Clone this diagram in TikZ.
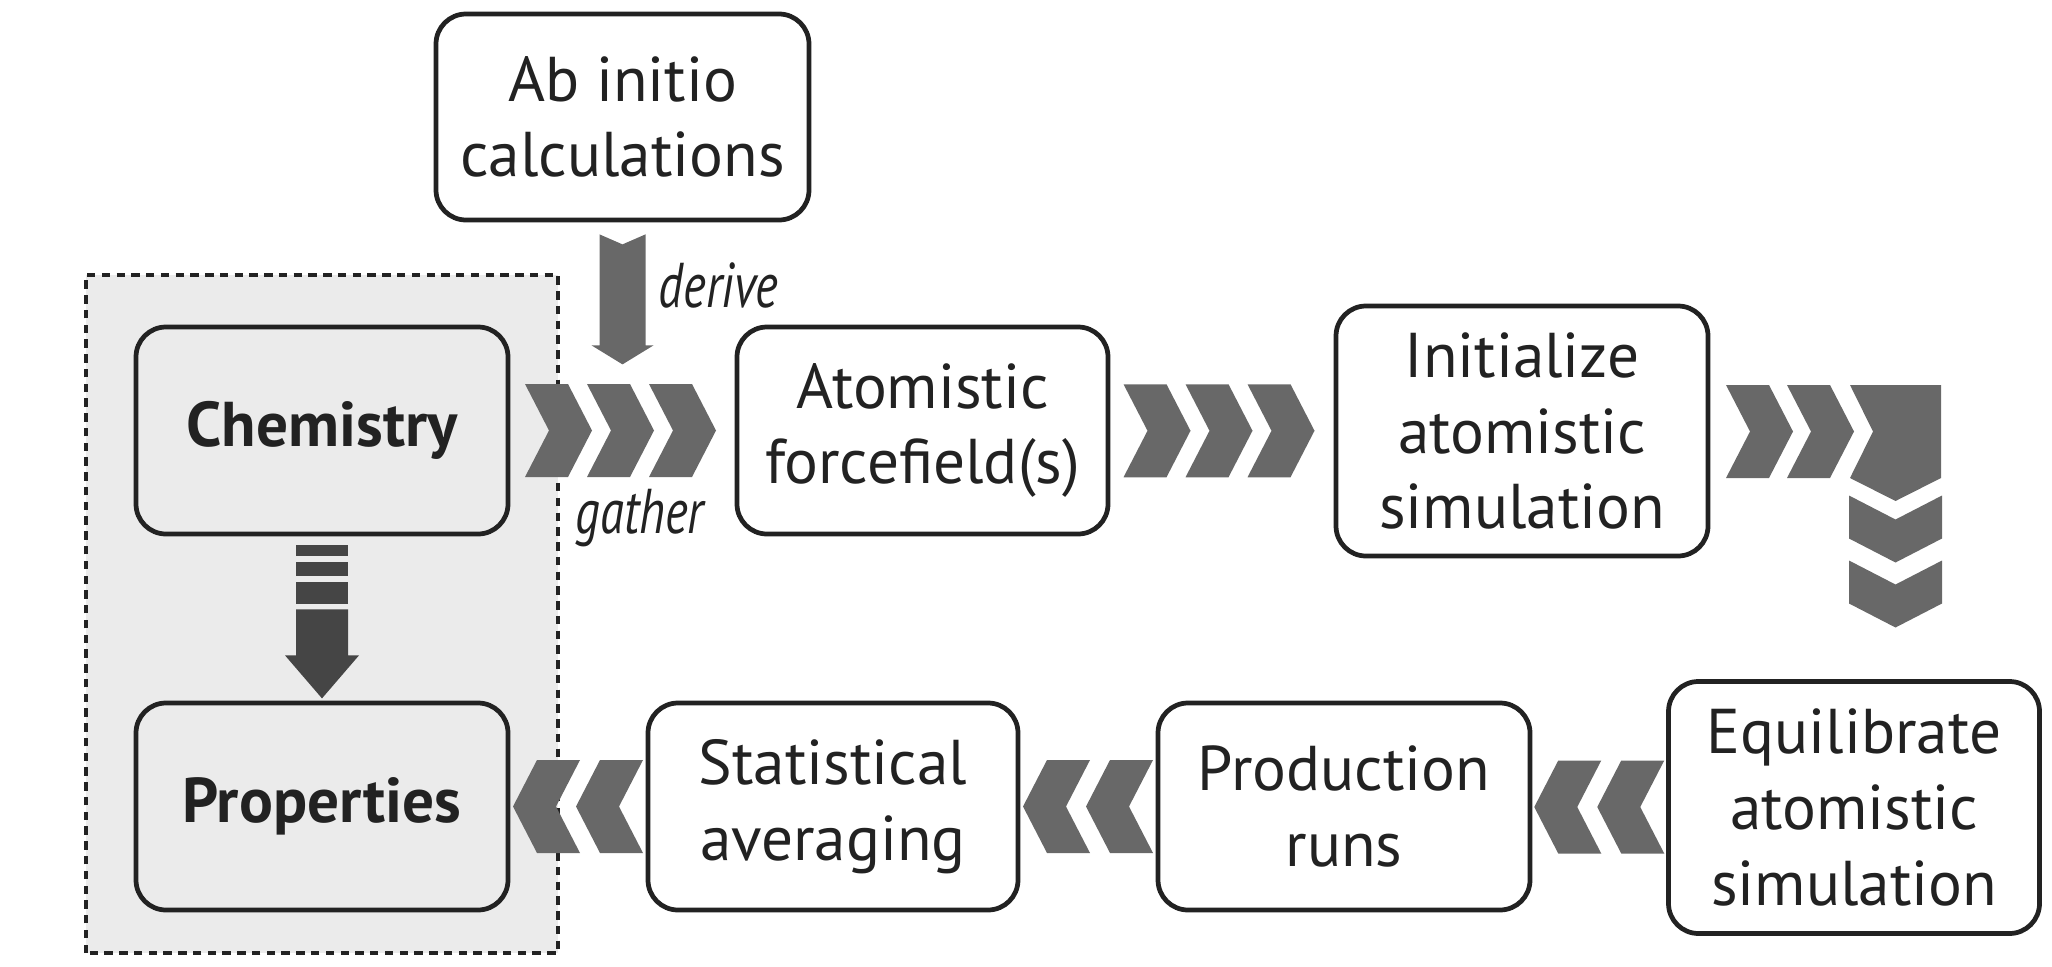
\documentclass[tikz,border=0pt]{standalone}
\usepackage{fontspec}
\setmainfont{PT Sans}
\newfontfamily\labelfont{PT Sans}[FakeStretch=0.77]
\usetikzlibrary{calc}
\definecolor{chevgray}{HTML}{686868}
\definecolor{arrowgray}{HTML}{454545}
\definecolor{areagray}{HTML}{EBEBEB}
\definecolor{linegray}{HTML}{222222}
\tikzset{
  box/.style={draw=linegray, text=linegray, line width=1.35pt, rounded corners=0.3cm,
    fill=white, align=center, inner sep=0pt, minimum width=3.72cm,
    minimum height=2.07cm, font=\fontsize{18}{21.5}\selectfont},
  chembox/.style={box, fill=areagray, font=\fontsize{18}{21.5}\selectfont\bfseries},
  flowlabel/.style={text=linegray, inner sep=0pt, font=\labelfont\fontsize{18}{21.5}\selectfont\itshape},
  chevron/.pic={\fill[chevgray] (-0.335,0.465) -- (0.095,0.465) -- (0.335,0)
    -- (0.095,-0.465) -- (-0.335,-0.465) -- (-0.095,0) -- cycle;}
}
\begin{document}
\begin{tikzpicture}
  \useasboundingbox (0,0) rectangle (20.52,9.66);
  \draw[draw=linegray, fill=areagray, line width=1pt, dash pattern=on 2.4pt off 1.8pt]
    (0.86,0.13) rectangle (5.58,6.91);
  \draw
    (6.225,8.49) node[box, minimum width=3.73cm, minimum height=2.06cm] (abinitio){Ab initio\\calculations}
    (3.22,5.355) node[chembox] (chem){Chemistry}
    (3.22,1.595) node[chembox] (prop){Properties}
    (9.225,5.355) node[box, minimum width=3.71cm] (force){Atomistic\\forcefield(s)}
    (15.22,5.35) node[box, minimum height=2.5cm] (init){Initialize\\atomistic\\simulation}
    (18.54,1.585) node[box, minimum width=3.71cm, minimum height=2.52cm] (equil){Equilibrate\\atomistic\\simulation}
    (13.44,1.595) node[box] (prod){Production\\runs}
    (8.33,1.595) node[box, minimum width=3.7cm] (stat){Statistical\\averaging};
  \node[flowlabel, anchor=base west] (derive) at (6.58,6.59) {derive};
  \node[flowlabel, anchor=base west] (gather) at (5.75,4.33) {gather};
  \begin{scope}[shift={(abinitio.south)}]
    \fill[chevgray] (-0.23,-0.12) -- (0,-0.22) -- (0.23,-0.12) -- (0.23,-1.23)
      -- (0.31,-1.23) -- (0,-1.42) -- (-0.31,-1.23) -- (-0.23,-1.23) -- cycle;
  \end{scope}
  \begin{scope}[shift={(chem.south)}, arrowgray]
    \fill (-0.26,-0.09) rectangle (0.26,-0.20);
    \fill (-0.26,-0.26) rectangle (0.26,-0.40);
    \fill (-0.26,-0.46) rectangle (0.26,-0.68);
    \fill (-0.26,-0.73) -- (0.26,-0.73) -- (0.26,-1.19) -- (0.37,-1.19)
      -- (0,-1.62) -- (-0.37,-1.19) -- (-0.26,-1.19) -- cycle;
  \end{scope}
  \coordinate (g1) at ($(chem.east)!0.5!(force.west)$);
  \coordinate (g2) at ($(force.east)!0.5!(init.west)$);
  \coordinate (g3) at ($(prod.east)!0.5!(equil.west)$);
  \coordinate (g4) at ($(stat.east)!0.5!(prod.west)$);
  \coordinate (g5) at ($(prop.east)!0.5!(stat.west)$);
  \foreach \d in {-0.64,-0.02,0.60} \pic at ([xshift=\d cm]g1) {chevron};
  \foreach \d in {-0.65,-0.03,0.59} \pic at ([xshift=\d cm]g2) {chevron};
  \foreach \g in {g3,g4,g5}
    \foreach \d in {-0.315,0.315} \pic[rotate=180] at ([xshift=\d cm]\g) {chevron};
  \foreach \x in {17.595,18.205} \pic at (\x,5.345) {chevron};
  \fill[chevgray] (18.50,5.81) -- (19.41,5.81) -- (19.41,4.88) -- (18.955,4.65)
    -- (18.50,4.88) -- (18.73,5.345) -- cycle;
  \foreach \y in {4.37,3.72} \pic[rotate=-90] at (18.955,\y) {chevron};
\end{tikzpicture}
\end{document}
